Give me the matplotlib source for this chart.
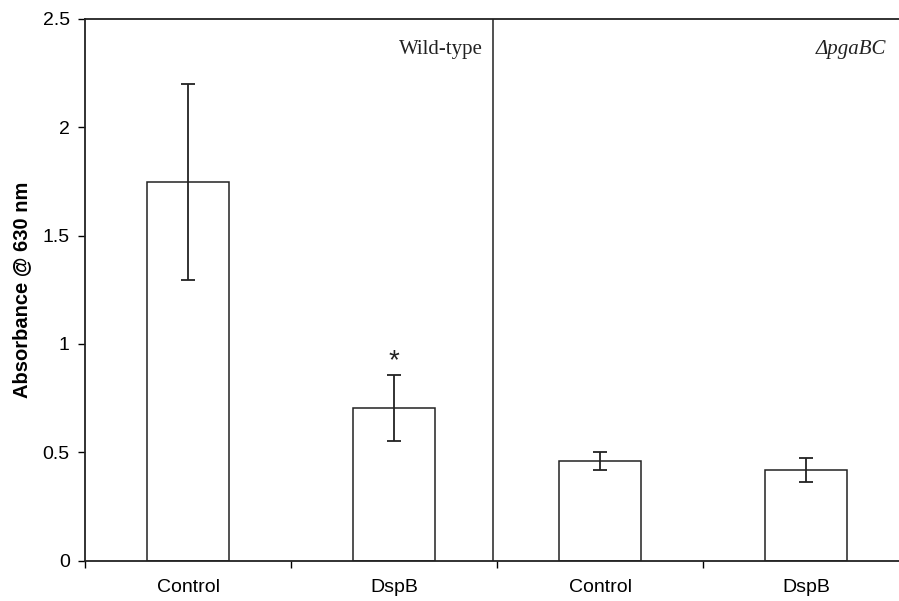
import matplotlib.pyplot as plt

# values
groups = ["Control", "DspB", "Control", "DspB"]
absorbance = [1.745, 0.703, 0.460, 0.419]
errors = [0.452, 0.152, 0.040, 0.056]
star_y = 0.92

plt.rcParams['font.family'] = ['Liberation Sans', 'DejaVu Sans']

fig = plt.figure(figsize=(8.99, 6.01), dpi=100)
ax = fig.add_axes([85 / 899, 40.3 / 601, 824 / 899, 542 / 601])

x = list(range(len(groups)))
ax.bar(x, absorbance, width=0.4, color='white', edgecolor='#222222', linewidth=1.1)
ax.errorbar(x, absorbance, yerr=errors, fmt='none', ecolor='#222222',
            elinewidth=1.3, capsize=5, capthick=1.3)

# divider between strains
ax.axvline(1.48, color='#222222', linewidth=1.1)

ax.text(1, star_y, "*", ha='center', va='center', fontsize=20, color='#222222')
ax.text(1.43, 2.36, "Wild-type", ha='right', va='center', fontsize=15,
        family=['Liberation Serif', 'DejaVu Serif'], color='#222222')
ax.text(3.39, 2.36, "ΔpgaBC", ha='right', va='center', fontsize=15, style='italic',
        family=['Liberation Serif', 'DejaVu Serif'], color='#222222')

ax.set_xlim(-0.5, 3.5)
ax.set_ylim(0, 2.5)
ax.set_yticks([0, 0.5, 1, 1.5, 2, 2.5])
ax.set_yticklabels(["0", "0.5", "1", "1.5", "2", "2.5"])
ax.set_xticks([-0.5, 0.5, 1.5, 2.5])
ax.set_xticklabels([])
ax.set_xticks(x, minor=True)
ax.set_xticklabels(groups, minor=True)
ax.tick_params(axis='x', which='minor', length=0, pad=13, labelsize=14)
ax.tick_params(axis='x', which='major', length=5, width=1, direction='out')
ax.tick_params(axis='y', length=5, width=1, direction='out', labelsize=14, pad=6)
for s in ax.spines.values():
    s.set_linewidth(1.3)
    s.set_color('#222222')

ax.set_ylabel("Absorbance @ 630 nm", fontsize=14.5, fontweight='bold')
ax.yaxis.set_label_coords(-0.066, 0.5)

fig.savefig("out.png", dpi=100)
